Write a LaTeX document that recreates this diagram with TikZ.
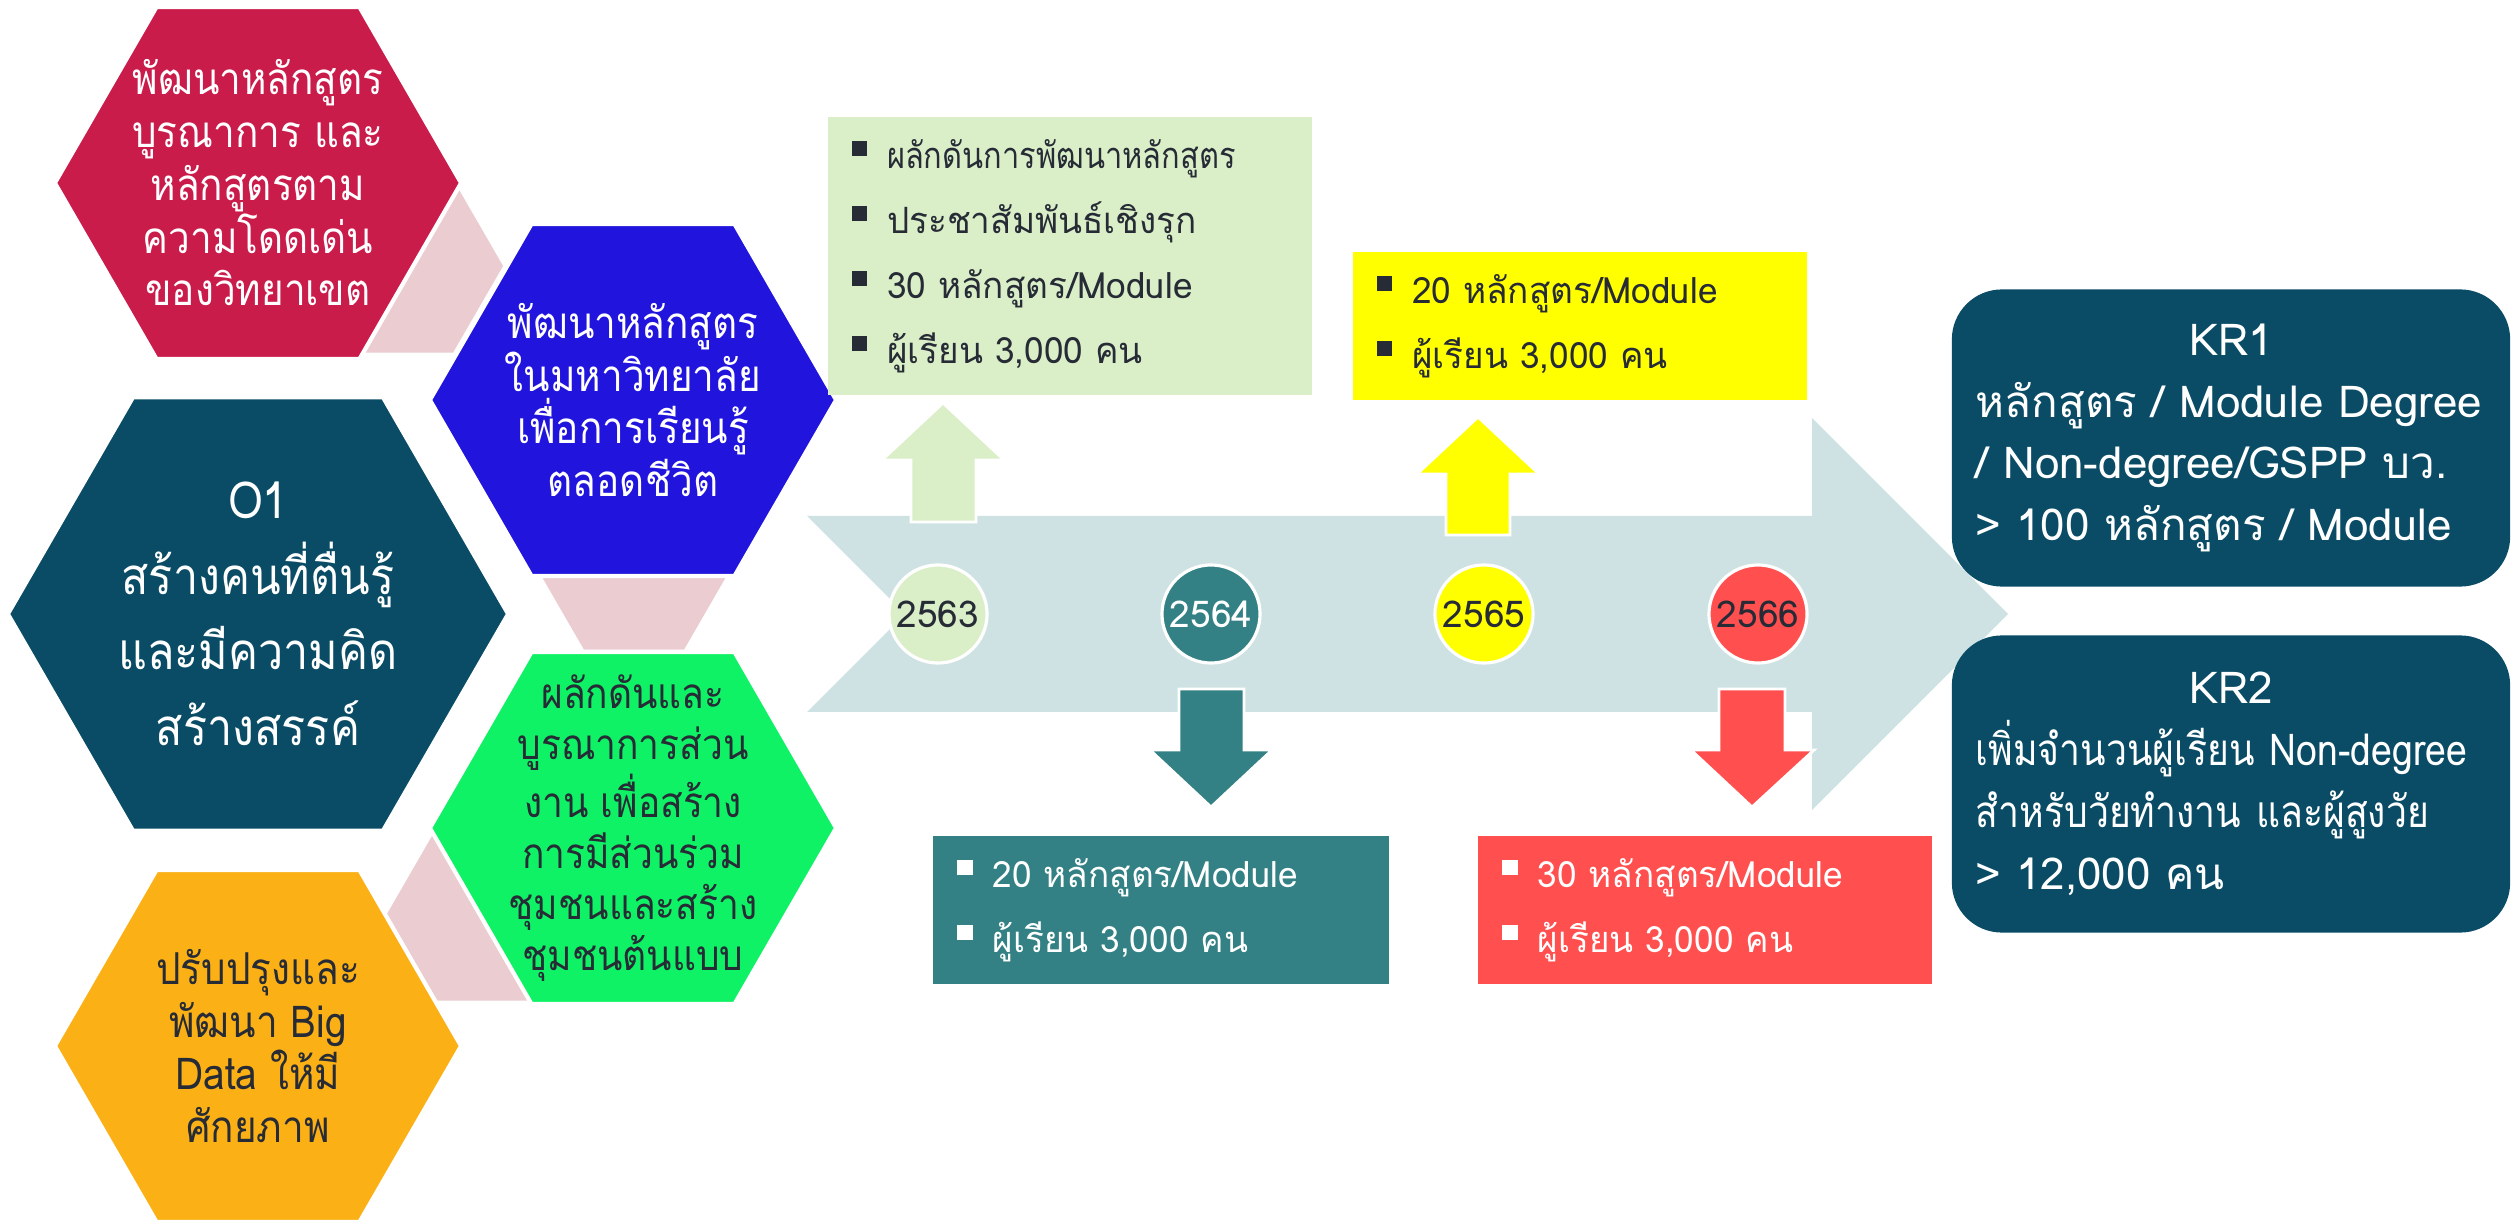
\documentclass[tikz,border=0pt]{standalone}
\usepackage{fontspec}
\setmainfont{Loma}[Script=Thai]
\newfontfamily\hexfont{Loma}[Script=Thai,FakeStretch=0.88]
\newfontfamily\boxfont{Loma}[Script=Thai,FakeStretch=0.97]
\newfontfamily\narrowfont{Loma}[Script=Thai,FakeStretch=0.85]
\usetikzlibrary{shapes.geometric}
\definecolor{hexred}{HTML}{CA1C4B}
\definecolor{hexblue}{HTML}{2114DD}
\definecolor{hexdark}{HTML}{0A4C65}
\definecolor{hexgreen}{HTML}{10F266}
\definecolor{hexorange}{HTML}{FBB116}
\definecolor{linkpink}{HTML}{EACCD1}
\definecolor{bandgray}{HTML}{CFE2E3}
\definecolor{boxgreen}{HTML}{DAEFC8}
\definecolor{boxyellow}{HTML}{FFFF00}
\definecolor{boxteal}{HTML}{338184}
\definecolor{boxred}{HTML}{FF4F4F}
\definecolor{inkdark}{HTML}{262B36}
\newcommand{\bul}{\hspace*{0.14cm}\rule[0.33em]{0.42em}{0.42em}\hspace{0.55em}}
\tikzset{
  hexa/.style={regular polygon,regular polygon sides=6,inner sep=0pt,draw=white,line width=1.2pt},
  link/.style={regular polygon,regular polygon sides=6,inner sep=0pt,minimum size=2cm,fill=linkpink},
  hextext/.style={align=center,inner sep=0pt},
  year/.style={circle,minimum size=0.98cm,inner sep=0pt,draw=white,line width=0.9pt,text=inkdark,font=\fontsize{10.5}{12}\selectfont},
  infobox/.style={rectangle,inner ysep=0pt,inner xsep=0.1cm,align=left,font=\boxfont\fontsize{10.3}{18.5}\selectfont},
  krbox/.style={rectangle,rounded corners=0.5cm,fill=hexdark,text=white,inner xsep=0.24cm,text width=5.1cm,minimum height=2.97cm,align=left,font=\fontsize{12.5}{17.6}\selectfont},
  blockarrow/.style={draw=white,line width=0.8pt}
}
\begin{document}
\begin{tikzpicture}[x=0.01cm,y=-0.01cm]
\useasboundingbox (0,0) rectangle (2512,1222);
% pink links between the hexagons
\node (link1) [link] at (403,266) {};
\node (link2) [link] at (634,563) {};
\node (link3) [link] at (487,914) {};
% hexagons
\node (curr) [hexa,minimum size=4.06cm,fill=hexred] at (258,183) {};
\node (life) [hexa,minimum size=4.06cm,fill=hexblue] at (633,400) {};
\node (goal) [hexa,minimum size=5cm,fill=hexdark] at (258,614) {};
\node (comm) [hexa,minimum size=4.06cm,fill=hexgreen] at (633,828) {};
\node (data) [hexa,minimum size=4.06cm,fill=hexorange] at (258,1046) {};
\node [hextext,text=white,font=\hexfont\fontsize{12.5}{15}\selectfont] at (curr) {พัฒนาหลักสูตร\\บูรณาการ และ\\หลักสูตรตาม\\ความโดดเด่น\\ของวิทยาเขต};
\node [hextext,text=white,font=\hexfont\fontsize{12.5}{15}\selectfont] at (life) {พัฒนาหลักสูตร\\ในมหาวิทยาลัย\\เพื่อการเรียนรู้\\ตลอดชีวิต};
\node [hextext,text=white,font=\hexfont\fontsize{14.5}{21.5}\selectfont] at (goal) {O1\\สร้างคนที่ตื่นรู้\\และมีความคิด\\สร้างสรรค์};
\node [hextext,text=inkdark,font=\hexfont\fontsize{12}{14.5}\selectfont] at (comm) {ผลักดันและ\\บูรณาการส่วน\\งาน เพื่อสร้าง\\การมีส่วนร่วม\\ชุมชนและสร้าง\\ชุมชนต้นแบบ};
\node [hextext,text=inkdark,font=\hexfont\fontsize{12.5}{15}\selectfont] at (data) {ปรับปรุงและ\\พัฒนา Big\\Data ให้มี\\ศักยภาพ};
% timeline band
\fill[bandgray] (807,516) -- (1812,516) -- (1812,418) -- (2008,614) -- (1812,810) -- (1812,712) -- (807,712) -- (905,614) -- cycle;
% block arrows
\draw[blockarrow,fill=boxgreen] (911,522) -- (911,460) -- (882,460) -- (943,403) -- (1004,460) -- (976,460) -- (976,522) -- cycle;
\draw[blockarrow,fill=boxyellow] (1446,535) -- (1446,474) -- (1417,474) -- (1478,417) -- (1539,474) -- (1510,474) -- (1510,535) -- cycle;
\draw[blockarrow,fill=boxteal] (1179,689) -- (1179,750) -- (1150,750) -- (1211,807) -- (1272,750) -- (1244,750) -- (1244,689) -- cycle;
\draw[blockarrow,fill=boxred] (1719,689) -- (1719,750) -- (1691,750) -- (1752,807) -- (1814,750) -- (1785,750) -- (1785,689) -- cycle;
% years
\node (y63) [year,fill=boxgreen] at (938,614) {2563};
\node (y64) [year,fill=boxteal,text=white] at (1211,614) {2564};
\node (y65) [year,fill=boxyellow] at (1484,614) {2565};
\node (y66) [year,fill=boxred] at (1758,614) {2566};
% boxes
\node (p63) [infobox,fill=boxgreen,text=inkdark,text width=4.64cm,minimum height=2.77cm] at (1070,256) {\bul{\narrowfont ผลักดันการพัฒนาหลักสูตร}\\\bul ประชาสัมพันธ์เชิงรุก\\\bul 30 หลักสูตร/Module\\\bul ผู้เรียน 3,000 คน};
\node (p65) [infobox,fill=boxyellow,text=inkdark,text width=4.34cm,minimum height=1.48cm] at (1580,326) {\bul 20 หลักสูตร/Module\\\bul ผู้เรียน 3,000 คน};
\node (p64) [infobox,fill=boxteal,text=white,text width=4.35cm,minimum height=1.48cm] at (1161,910) {\bul 20 หลักสูตร/Module\\\bul ผู้เรียน 3,000 คน};
\node (p66) [infobox,fill=boxred,text=white,text width=4.33cm,minimum height=1.48cm] at (1705,910) {\bul 30 หลักสูตร/Module\\\bul ผู้เรียน 3,000 คน};
% key results
\node (kr1) [krbox] at (2231,438) {\makebox[\linewidth]{KR1}\\หลักสูตร / Module Degree\\/ Non-degree/GSPP บว.\\> 100 หลักสูตร / Module};
\node (kr2) [krbox] at (2231,784) {\makebox[\linewidth]{KR2}\\{\narrowfont เพิ่มจำนวนผู้เรียน Non-degree}\\{\narrowfont สำหรับวัยทำงาน และผู้สูงวัย}\\> 12,000 คน};
\end{tikzpicture}
\end{document}
